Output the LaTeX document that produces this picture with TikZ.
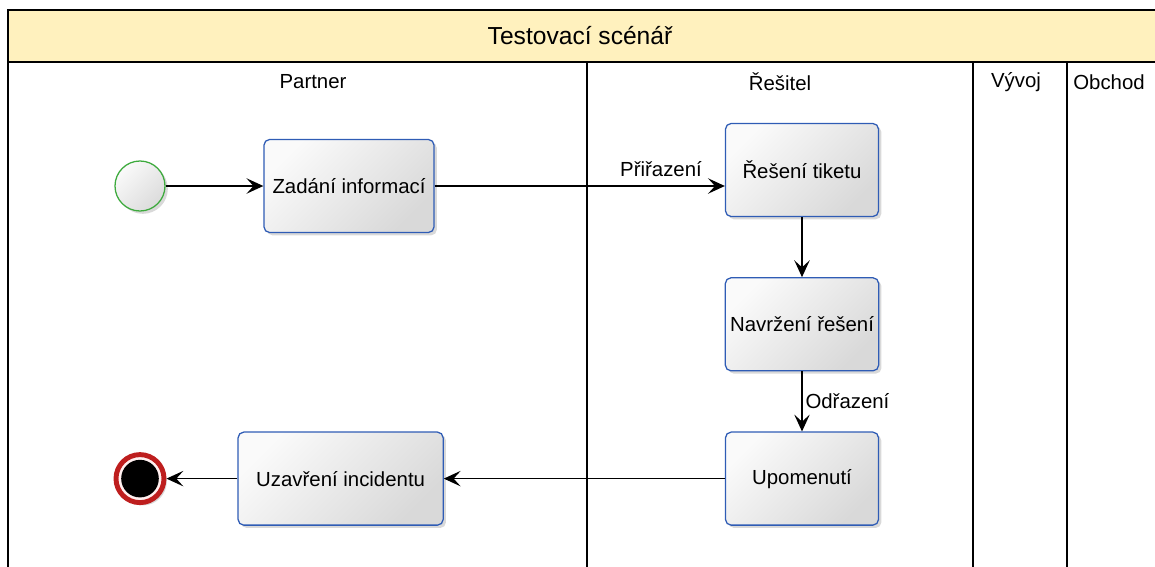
\documentclass[tikz,border=0pt]{standalone}
\usepackage{xcolor}
\usepackage{fontspec}
\setmainfont{Liberation Sans}
\usepackage{tikz}
\usetikzlibrary{positioning,shadows,arrows.meta}

\definecolor{taskblue}{HTML}{2F5CB5}
\definecolor{startgreen}{HTML}{3DAA3D}
\definecolor{endred}{HTML}{BE1E1E}
\definecolor{titleyellow}{HTML}{FFF1BE}

\begin{document}
\begin{tikzpicture}[
	x=0.025cm, y=-0.025cm,
	tasknode/.style={rectangle, rounded corners=4pt, draw=taskblue, line width=0.9pt, top color=gray!4, bottom color=gray!30, shading angle=45, minimum width=3.825cm, minimum height=2.325cm, font=\fontsize{14.5}{17}\selectfont, drop shadow={opacity=0.3, shadow xshift=2pt, shadow yshift=-2pt}},
	startnode/.style={circle, draw=startgreen, line width=0.9pt, top color=gray!4, bottom color=gray!28, shading angle=45, minimum size=1.25cm, drop shadow={opacity=0.3, shadow xshift=2pt, shadow yshift=-2pt}},
	endnode/.style={circle, draw=endred, line width=3.5pt, fill=red!6, minimum size=1.2cm, path picture={\fill[black] (path picture bounding box.center) circle (0.47cm);}, drop shadow={opacity=0.3, shadow xshift=2pt, shadow yshift=-2pt}},
	lanelabel/.style={font=\fontsize{14.5}{17}\selectfont},
	flow/.style={-{Stealth[length=12pt,width=11pt,inset=5pt]}, line width=1pt},
	node distance=1.5cm,
	]
	\useasboundingbox (0,0) rectangle (1155,566);
	
	%Pool and lanes
	\fill[titleyellow] (8,10) rectangle (1160,62);
	\draw[line width=1.2pt] (1160,10) -- (8,10) -- (8,570);
	\draw[line width=1.2pt] (8,62) -- (1160,62);
	\draw[line width=0.9pt] (587,62) -- (587,570);
	\draw[line width=0.9pt] (973,62) -- (973,570);
	\draw[line width=0.9pt] (1067,62) -- (1067,570);
	
	\node[font=\fontsize{17.5}{20}\selectfont] (title) at (580,36) {Testovací scénář};
	\node[lanelabel] (partner) at (313,82) {Partner};
	\node[lanelabel] (resitel) at (780,82) {Řešitel};
	\node[lanelabel] (vyvoj) at (1016,82) {Vývoj};
	\node[lanelabel] (obchod) at (1109,82) {Obchod};
	
	%Nodes
	\node[startnode] (start) at (140,186) {};
	\node[tasknode, minimum width=4.25cm] (zadani) at (349,186) {Zadání informací};
	\node[tasknode] (reseni) at (802,170) {Řešení tiketu};
	\node[tasknode] (navrzeni) [below=of reseni] {Navržení řešení};
	\node[tasknode] (upomenuti) [below=of navrzeni] {Upomenutí};
	\node[tasknode, minimum width=5.125cm] (uzavreni) [left=7.025cm of upomenuti] {Uzavření incidentu};
	\node[endnode] (konec) at (uzavreni.west -| start) {};
	
	%Lines
	\draw[flow] (start) -- (zadani);
	\draw[flow] (zadani.east) -- (zadani.east -| reseni.west) node[above=3pt, pos=0.78, lanelabel] {Přiřazení};
	\draw[flow] (reseni) -- (navrzeni);
	\draw[flow] (navrzeni) -- (upomenuti) node[right, midway, lanelabel, inner sep=2pt] {Odřazení};
	\draw[flow] (upomenuti) -- (uzavreni);
	\draw[flow] (uzavreni) -- (konec);
	
\end{tikzpicture}
\end{document}
